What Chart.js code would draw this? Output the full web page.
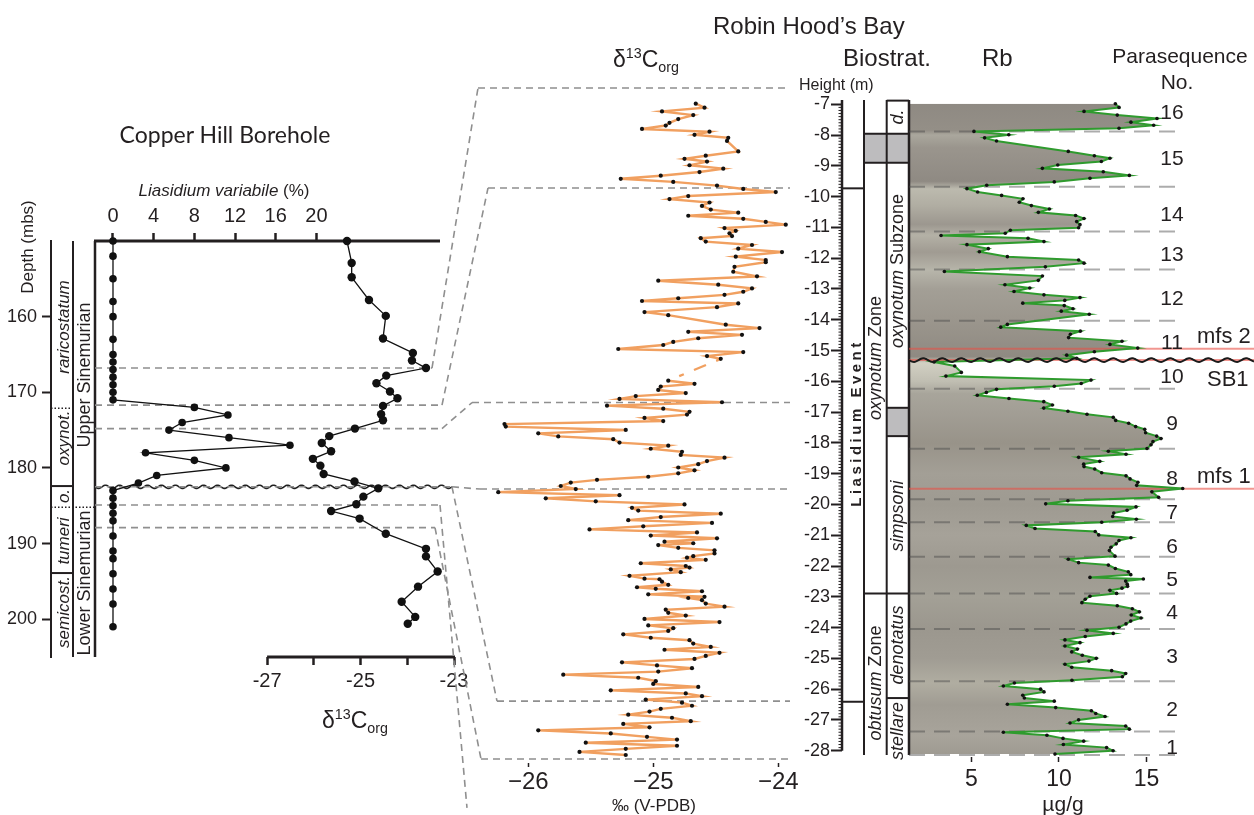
<!DOCTYPE html>
<html>
<head>
<meta charset="utf-8">
<script src="https://cdn.jsdelivr.net/npm/chart.js@4.4.1/dist/chart.umd.min.js"></script>
<style>
  body { margin: 0; background: #fff; }
  #wrap { position: relative; width: 1254px; height: 815px; overflow: hidden;
          font-family: "Liberation Sans", Arial, sans-serif; color: #231f20; }
  #wrap canvas { position: absolute; left: 0; top: 0; }
  .t { position: absolute; white-space: nowrap; line-height: 1; }
  .c { transform: translate(-50%, -50%); }
  .l { transform: translate(0, -50%); }
  .r { transform: translate(-50%, -50%) rotate(-90deg); }
  sup, sub { font-size: 62%; line-height: 0; }
</style>
</head>
<body>
<div id="wrap">
  <canvas id="c1" width="1254" height="815"></canvas>
  <canvas id="c2" width="1254" height="815"></canvas>
  <canvas id="c3" width="1254" height="815"></canvas>
</div>
<script>
// ---------- Copper Hill Borehole ----------
var liaDepth = [150,152,155,158,160,163,165,166,167,168,169,170,171,172,173,174,175,176,177,178,179,180,181,182,183,184,185,186,187,189,191,192,194,196,198,201];
var liaPct = [0,0,0,0,0,0,0,0,0,0,0,0,0,8.0,11.3,6.8,5.5,11.4,17.4,3.2,8.0,11.1,4.3,2.5,0,0,0,0,0,0,0,0,0,0,0,0];
var chDepth = [150,152.9,154.8,157.8,159.9,162.9,164.8,165.8,166.8,167.8,168.8,169.9,170.8,171.8,172.9,173.7,174.8,175.8,176.7,177.8,178.8,179.7,180.8,181.8,182.7,183.8,184.8,185.7,186.7,188.7,190.7,191.7,193.7,195.7,197.7,199.7,200.6];
var chD13C = [-25.29,-25.19,-25.19,-24.82,-24.46,-24.52,-23.88,-23.90,-23.60,-24.45,-24.66,-24.37,-24.21,-24.52,-24.56,-24.52,-25.12,-25.67,-25.83,-25.63,-26.02,-25.86,-25.79,-25.13,-24.62,-24.94,-25.09,-25.63,-25.02,-24.46,-23.60,-23.60,-23.35,-23.77,-24.12,-23.83,-23.99];
var depthTicks = [160,170,180,190,200];
var liaTicks = [0,4,8,12,16,20];
var chCTicks = [-27,-26,-25,-24,-23];
var chCLabeled = [-27,-25,-23];
var chSeqBoundary = 182.5;

// tie lines Copper Hill depth (mbs) -> Robin Hood's Bay height (m)
var linkDepth = [166.8, 171.7, 174.8, 182.5, 182.5, 184.9, 187.9];
var linkHeight = [-6.47, -9.72, -16.69, -19.50, -26.39, -29.86, -28.27];

// ---------- Robin Hood's Bay: d13C org ----------
var rhbH = [-6.98,-7.11,-7.23,-7.35,-7.48,-7.60,-7.69,-7.80,-7.89,-7.99,-8.09,-8.19,-8.53,-8.67,-8.77,-8.86,-8.98,-9.09,-9.20,-9.32,-9.42,-9.52,-9.64,-9.75,-9.85,-9.98,-10.08,-10.19,-10.30,-10.42,-10.52,-10.62,-10.72,-10.82,-10.91,-11.02,-11.11,-11.19,-11.28,-11.35,-11.46,-11.57,-11.69,-11.80,-11.95,-12.06,-12.13,-12.28,-12.44,-12.59,-12.73,-12.86,-12.98,-13.09,-13.19,-13.30,-13.39,-13.47,-13.59,-13.75,-13.85,-14.16,-14.27,-14.39,-14.49,-14.60,-14.72,-14.82,-14.95,-15.05,-15.18,-15.27,
  -15.98,-16.08,-16.17,-16.28,-16.38,-16.48,-16.57,-16.68,-16.79,-16.89,-16.99,-17.08,-17.19,-17.29,-17.39,-17.47,-17.58,-17.69,-17.79,-17.88,-17.99,-18.09,-18.19,-18.29,-18.39,-18.48,-18.59,-18.69,-18.80,-18.89,-18.99,-19.10,-19.20,-19.29,-19.40,-19.50,-19.60,-19.70,-19.80,-19.90,-20.00,-20.11,-20.20,-20.30,-20.41,-20.51,-20.60,-20.71,-20.81,-20.91,-21.01,-21.10,
  -21.21,-21.26,-21.32,-21.41,-21.49,-21.59,-21.68,-21.73,-21.80,-21.91,-22.00,-22.05,-22.11,-22.20,-22.32,-22.41,-22.43,-22.51,-22.61,-22.69,-22.74,-22.82,-22.92,-23.00,-23.04,-23.11,-23.22,-23.32,-23.42,-23.52,-23.61,-23.72,-23.82,-23.93,-24.02,-24.11,-24.22,-24.33,-24.41,-24.52,-24.63,-24.72,-24.82,-24.92,-25.02,-25.13,-25.23,-25.32,-25.43,-25.53,-25.63,-25.74,-25.83,-25.93,-26.04,-26.14,-26.23,-26.34,-26.44,-26.54,-26.64,-26.73,-26.83,-26.93,-27.04,-27.13,-27.24,-27.34,-27.44,-27.55,-27.64,-27.74,-27.84,-27.94,-28.04,-28.14];
var rhbC = [-24.66,-24.59,-24.93,-24.68,-24.80,-24.87,-24.90,-25.09,-24.55,-24.67,-24.40,-24.41,-24.32,-24.58,-24.75,-24.57,-24.71,-24.44,-24.63,-24.94,-25.26,-24.84,-24.49,-24.28,-24.02,-24.72,-24.87,-24.55,-24.61,-24.54,-24.32,-24.72,-24.28,-24.10,-23.94,-24.43,-24.34,-24.39,-24.37,-24.62,-24.58,-24.21,-24.32,-23.97,-24.34,-24.10,-24.10,-24.35,-24.36,-24.17,-24.96,-24.48,-24.21,-24.28,-24.43,-24.80,-25.09,-24.32,-24.49,-25.07,-24.88,-24.42,-24.15,-24.72,-24.29,-24.64,-24.84,-24.92,-25.28,-24.28,-24.57,-24.46,
  -24.88,-24.67,-24.94,-24.96,-24.74,-25.14,-25.27,-24.45,-25.37,-24.92,-24.71,-24.73,-25.07,-24.92,-26.19,-26.18,-25.22,-25.92,-25.76,-25.32,-25.27,-24.88,-25.02,-24.77,-24.78,-24.43,-24.57,-24.64,-24.80,-24.67,-24.80,-25.04,-25.45,-25.66,-25.74,-25.62,-26.24,-25.27,-25.86,-25.46,-24.75,-25.17,-25.12,-24.46,-24.94,-25.20,-24.53,-25.08,-25.51,-24.65,-25.02,-24.49,
  -24.91,-24.68,-24.96,-24.80,-24.51,-24.51,-24.68,-24.73,-24.58,-25.10,-24.74,-24.71,-24.86,-24.78,-25.19,-25.07,-24.95,-24.93,-24.88,-25.13,-24.98,-24.61,-25.04,-24.59,-24.72,-24.61,-24.58,-24.43,-24.90,-24.88,-24.74,-25.07,-24.47,-25.04,-24.84,-24.88,-25.24,-25.02,-24.71,-24.68,-24.54,-24.91,-24.47,-24.58,-24.67,-25.25,-24.97,-24.69,-24.96,-25.72,-25.12,-24.98,-25.00,-24.64,-25.34,-24.74,-24.61,-25.06,-24.77,-24.69,-24.94,-25.03,-25.20,-24.85,-24.70,-25.24,-25.03,-25.92,-25.34,-25.05,-24.81,-25.54,-24.81,-25.22,-25.59,-25.22];
var rhbGapAfter = -15.27;
var rhbCTicks = [-26,-25,-24];

// ---------- Robin Hood's Bay: Rb ----------
var rbH = [-6.98,-7.10,-7.23,-7.35,-7.46,-7.58,-7.68,-7.78,-7.88,-7.99,-8.09,-8.19,-8.53,-8.67,-8.75,-8.86,-8.97,-9.08,-9.19,-9.31,-9.40,-9.52,-9.63,-9.74,-9.85,-9.96,-10.07,-10.18,-10.29,-10.40,-10.51,-10.61,-10.71,-10.81,-10.91,-11.01,-11.09,-11.19,-11.26,-11.35,-11.46,-11.56,-11.69,-11.79,-11.95,-12.06,-12.16,-12.28,-12.43,-12.58,-12.72,-12.86,-12.97,-13.08,-13.19,-13.28,-13.37,-13.46,-13.54,-13.64,-13.72,-13.82,-14.15,-14.24,-14.37,-14.47,-14.58,-14.70,-14.80,-14.92,-15.04,-15.15,-15.25,-15.37,-15.50,-15.71,-15.83,-15.96,-16.07,-16.16,-16.26,-16.36,-16.45,-16.56,-16.66,-16.77,-16.87,-16.97,-17.07,-17.17,-17.27,-17.36,-17.47,-17.56,-17.67,-17.78,-17.86,-17.96,-18.06,-18.18,-18.27,-18.37,-18.47,-18.60,-18.69,-18.77,-18.85,-18.97,-19.07,-19.17,-19.28,-19.38,-19.48,-19.59,-19.77,-19.88,-19.98,-20.08,-20.19,-20.28,-20.39,-20.48,-20.58,-20.68,-20.78,-20.88,-20.99,-21.08,-21.17,-21.28,-21.39,-21.50,-21.68,-21.78,-21.89,-21.97,-22.08,-22.19,-22.28,-22.37,-22.42,-22.49,-22.59,-22.66,-22.72,-22.79,-22.89,-22.98,-23.08,-23.19,-23.29,-23.39,-23.49,-23.59,-23.69,-23.79,-23.88,-23.99,-24.09,-24.19,-24.29,-24.40,-24.49,-24.60,-24.70,-24.79,-24.90,-25.00,-25.09,-25.19,-25.29,-25.40,-25.49,-25.60,-25.71,-25.80,-25.90,-26.00,-26.09,-26.20,-26.29,-26.39,-26.49,-26.60,-26.70,-26.79,-26.89,-27.00,-27.10,-27.20,-27.30,-27.40,-27.50,-27.60,-27.69,-27.80,-27.90,-28.00,-28.11];
var rbV = [13.22,13.43,11.43,13.33,15.60,14.11,15.41,13.43,5.14,7.13,5.75,6.43,10.53,12.02,12.91,12.42,9.93,9.05,12.53,14.02,11.77,9.73,5.87,4.74,5.35,6.72,7.94,7.73,8.42,9.45,8.82,10.95,11.43,11.01,11.20,11.12,7.22,6.93,3.26,8.23,9.14,4.74,5.96,5.45,7.05,11.12,11.43,9.22,3.45,9.05,8.82,6.91,8.33,7.43,9.14,11.20,10.33,7.93,10.30,10.80,10.13,11.73,7.05,6.67,11.22,10.65,10.55,13.60,12.91,14.50,12.02,10.44,11.01,2.86,4.04,4.42,3.54,11.83,11.27,9.73,6.43,5.85,5.33,7.14,9.13,9.62,9.13,10.51,11.60,13.10,13.24,13.98,14.38,14.90,14.95,15.58,15.83,15.37,15.26,15.03,12.82,13.83,11.12,12.33,11.41,11.43,12.04,12.44,13.83,14.06,14.51,14.44,17.07,15.31,15.69,10.51,9.24,14.40,13.89,13.13,13.07,14.42,12.44,8.13,8.63,12.07,12.27,14.11,13.43,13.27,12.97,12.88,13.20,10.53,11.12,12.82,13.22,13.96,14.10,11.77,14.82,13.81,13.90,13.92,13.60,12.91,13.29,11.77,11.50,11.31,13.33,14.19,14.59,14.13,14.69,14.10,13.83,13.43,11.60,13.10,11.50,10.34,11.20,10.34,11.05,10.73,11.33,12.13,11.71,10.34,10.73,13.01,13.81,13.62,10.74,7.45,6.82,8.95,9.14,7.93,8.02,9.73,7.05,9.81,11.85,12.10,12.63,11.12,10.63,13.81,14.02,6.82,9.31,10.23,11.41,10.25,12.72,13.09,9.77];
var rbYTicks = [-7,-8,-9,-10,-11,-12,-13,-14,-15,-16,-17,-18,-19,-20,-21,-22,-23,-24,-25,-26,-27,-28];
var rbXTicks = [5,10,15];
var psBounds = [-7.88,-9.68,-11.13,-12.37,-14.03,-16.24,-18.19,-19.83,-20.58,-21.70,-22.89,-24.05,-25.74,-27.38,-28.14];
var psNumbers = [16,15,14,13,12,11,10,9,8,7,6,5,4,3,2,1];
var psLabelH = [-7.22,-8.71,-10.53,-11.83,-13.26,-14.69,-15.79,-17.32,-19.11,-20.21,-21.32,-22.39,-23.46,-24.89,-26.61,-27.85];
var mfsH = [-14.94, -19.49];
var mfsNames = ['mfs 2', 'mfs 1'];
var sb1H = -15.31;

var ink = '#231f20';
Chart.defaults.font.family = '"Liberation Sans", Arial, sans-serif';
Chart.defaults.color = ink;
Chart.defaults.animation = false;

function fixW(w) { return function (s) { s.width = w; }; }
function fixH(h) { return function (s) { s.height = h; }; }
function setTicks(arr) { return function (s) { s.ticks = arr.map(function (v) { return { value: v }; }); }; }
function pts(ys, xs) { return ys.map(function (y, i) { return { x: xs[i], y: y }; }); }

function seg(ctx, x0, y0, x1, y1, w, color, dash) {
  ctx.save();
  ctx.beginPath();
  ctx.lineWidth = w;
  ctx.strokeStyle = color || ink;
  ctx.setLineDash(dash || []);
  ctx.moveTo(x0, y0);
  ctx.lineTo(x1, y1);
  ctx.stroke();
  ctx.restore();
}
function wave(ctx, x0, x1, y, amp, len, w, color) {
  ctx.save();
  ctx.beginPath();
  ctx.lineWidth = w;
  ctx.strokeStyle = color;
  for (var x = x0; x <= x1; x += 1) {
    var yy = y + amp * Math.sin((x - x0) / len * 2 * Math.PI);
    if (x === x0) ctx.moveTo(x, yy); else ctx.lineTo(x, yy);
  }
  ctx.stroke();
  ctx.restore();
}

var baseOpts = {
  responsive: false, animation: false, devicePixelRatio: 1, indexAxis: 'y',
  plugins: { legend: { display: false }, tooltip: { enabled: false } }
};

// ---------- chart 2 : RHB d13C ----------
var gapIdx = rhbH.indexOf(rhbGapAfter);
var chart2 = new Chart(document.getElementById('c2'), {
  type: 'line',
  data: { datasets: [{
    data: pts(rhbH, rhbC),
    borderColor: '#f1a060', borderWidth: 2.4,
    pointRadius: 2.1, pointBackgroundColor: '#111', pointBorderWidth: 0,
    clip: false,
    segment: { borderDash: function (c) { return c.p0DataIndex === gapIdx ? [5, 11, 13, 11] : undefined; } }
  }] },
  options: Object.assign({}, baseOpts, {
    layout: { padding: { left: 480, right: 454, top: 90, bottom: 0 } },
    scales: {
      y: { type: 'linear', display: false, min: -28.40, max: -6.535 },
      x: {
        type: 'linear', position: 'bottom', min: -26.386, max: -23.826,
        afterBuildTicks: setTicks(rhbCTicks), afterFit: fixH(52),
        ticks: { font: { size: 24 }, padding: 1, color: ink, autoSkip: false,
                 callback: function (v) { return '\u2212' + Math.abs(v); } },
        grid: { drawOnChartArea: false, tickLength: 4, tickWidth: 1.5, tickColor: ink },
        border: { display: false }
      }
    }
  })
});

// ---------- chart 3 : RHB Rb ----------
var rbFill = function (c) {
  var ch = c.chart;
  if (!ch.chartArea || !ch.scales.y) return '#9d988f';
  var y = ch.scales.y, a = ch.chartArea;
  var g = ch.ctx.createLinearGradient(0, a.top, 0, a.bottom);
  var bands = [[-6.9,'#8e8982'],[-7.85,'#948f87'],[-8.0,'#aaa79d'],[-8.4,'#9a958d'],[-9.5,'#8f8a83'],[-9.75,'#bcbaae'],[-10.3,'#b0ada2'],[-10.9,'#9c978f'],[-11.25,'#b4b1a6'],[-11.8,'#a09b92'],[-12.4,'#b7b5aa'],[-13.0,'#a39f96'],[-14.0,'#9b968d'],[-15.2,'#8f8a82'],[-15.4,'#d2d0c3'],[-16.0,'#c0beb2'],[-16.4,'#a8a59b'],[-17.0,'#a29e95'],[-18.0,'#989389'],[-19.0,'#a39f96'],[-20.0,'#9e9a91'],[-21.0,'#a6a299'],[-22.0,'#9d9990'],[-23.0,'#a3a096'],[-24.0,'#9b978e'],[-25.0,'#a09c93'],[-25.8,'#b0ada1'],[-26.5,'#a09c93'],[-27.5,'#a8a49b'],[-28.2,'#9d9990']];
  bands.forEach(function (b) {
    var p = (y.getPixelForValue(b[0]) - a.top) / (a.bottom - a.top);
    g.addColorStop(Math.min(1, Math.max(0, p)), b[1]);
  });
  return g;
};

var rbPlugin = {
  id: 'rbDeco',
  beforeDatasetsDraw: function (chart) {
    var ctx = chart.ctx, y = chart.scales.y;
    var Y = function (h) { return y.getPixelForValue(h); };
    var top = Y(-6.86), bot = Y(-28.14);
    ctx.save();
    ctx.fillStyle = '#bdbcbe';
    ctx.fillRect(864, Y(-7.96), 45, Y(-8.90) - Y(-7.96));
    ctx.fillRect(886.7, Y(-16.86), 22.3, Y(-17.78) - Y(-16.86));
    ctx.restore();
    seg(ctx, 842, top, 842, Y(-28), 2.5);
    seg(ctx, 864, top, 864, bot, 2);
    seg(ctx, 886.7, top, 886.7, bot, 2);
    seg(ctx, 909, top, 909, bot, 2.5);
    [-9.73, -26.41].forEach(function (h) { seg(ctx, 842, Y(h), 864, Y(h), 2); });
    [-7.96, -8.90, -22.89].forEach(function (h) { seg(ctx, 864, Y(h), 909, Y(h), 2); });
    [-6.88, -16.86, -17.78, -26.29].forEach(function (h) { seg(ctx, 886.7, Y(h), 909, Y(h), 2); });
    for (var k = 70; k <= 280; k++) {
      if (k % 10) seg(ctx, 838.5, Y(-k / 10), 842, Y(-k / 10), 1);
    }
    psBounds.forEach(function (h) { seg(ctx, 909, Y(h), 1181, Y(h), 2, 'rgba(70,70,70,0.45)', [16, 9]); });
    mfsH.forEach(function (h) { seg(ctx, 909, Y(h), 1254, Y(h), 2, 'rgba(232,80,70,0.6)'); });
    seg(ctx, 909, Y(sb1H), 1254, Y(sb1H), 2, 'rgba(232,80,70,0.6)');
  },
  afterDatasetsDraw: function (chart) {
    var y = chart.scales.y;
    wave(chart.ctx, 909, 1254, y.getPixelForValue(sb1H), 1.8, 19, 2, '#1a1a1a');
  }
};

var chart3 = new Chart(document.getElementById('c3'), {
  type: 'line',
  data: { datasets: [{
    data: pts(rbH, rbV),
    borderColor: '#2f9b2e', borderWidth: 2,
    pointRadius: 1.8, pointBackgroundColor: '#111', pointBorderWidth: 0,
    fill: { value: 1.43 }, backgroundColor: rbFill, clip: false
  }] },
  options: Object.assign({}, baseOpts, {
    layout: { padding: { left: 800, right: 71, top: 90, bottom: 0 } },
    plugins: { legend: { display: false }, tooltip: { enabled: false }, filler: { drawTime: 'beforeDatasetsDraw' } },
    scales: {
      y: {
        type: 'linear', position: 'left', min: -28.205, max: -6.535,
        afterBuildTicks: setTicks(rbYTicks), afterFit: fixW(42),
        ticks: { font: { size: 18 }, padding: 1, color: ink, autoSkip: false, callback: function (v) { return String(v); } },
        grid: { drawOnChartArea: false, tickLength: 11, tickWidth: 2, tickColor: ink },
        border: { display: false }
      },
      x: {
        type: 'linear', position: 'bottom', min: -2.4, max: 17.086,
        afterBuildTicks: setTicks(rbXTicks), afterFit: fixH(58),
        ticks: { font: { size: 23 }, padding: 4, color: ink, autoSkip: false, callback: function (v) { return String(v); } },
        grid: { drawOnChartArea: false, tickLength: 5, tickWidth: 1.5, tickColor: ink },
        border: { display: false }
      }
    }
  }),
  plugins: [rbPlugin]
});

// ---------- chart 1 : Copper Hill ----------
var chPlugin = {
  id: 'chDeco',
  beforeDatasetsDraw: function (chart) {
    var ctx = chart.ctx, yD = chart.scales.yD, xC = chart.scales.xC;
    var D = function (d) { return yD.getPixelForValue(d); };
    var H = function (h) { return chart2.scales.y.getPixelForValue(h); };
    var top = D(150), bot = D(205);
    seg(ctx, 73, top, 73, bot, 2);
    seg(ctx, 95, top, 95, bot, 2.5);
    seg(ctx, 94, top, 440, top, 3);
    seg(ctx, xC.getPixelForValue(-27), bot, xC.getPixelForValue(-23) + 1, bot, 3);
    seg(ctx, 51, D(172.1), 73, D(172.1), 1.5, ink, [1.5, 2]);
    seg(ctx, 51, D(185.2), 95, D(185.2), 1.5, ink, [1.5, 2]);
    seg(ctx, 51, D(182.4), 73, D(182.4), 2);
    seg(ctx, 51, D(193.9), 73, D(193.9), 2);

    wave(ctx, 95, 452, D(chSeqBoundary), 1.6, 14, 1.6, '#222');

    var bend = [432, 442, 442, 452, 452, 440, 435];
    var join = [478, 488, 472, 480, 497, 467, 481];
    var run = [true, true, true, true, true, false, true];
    var dash = [7, 5], col = '#8f8f8f';
    linkDepth.forEach(function (d, i) {
      var y0 = D(d), y1 = H(linkHeight[i]);
      if (i !== 4) seg(ctx, 95, y0, bend[i], y0, 1.6, col, dash);
      seg(ctx, bend[i], y0, join[i], y1, 1.6, col, dash);
      if (run[i]) seg(ctx, join[i], y1, 790, y1, 1.6, col, dash);
    });
  }
};

var chart1 = new Chart(document.getElementById('c1'), {
  type: 'line',
  data: { datasets: [
    { data: pts(liaDepth, liaPct), xAxisID: 'xL', yAxisID: 'yD',
      borderColor: '#111', borderWidth: 1.3, pointRadius: 3.8,
      pointBackgroundColor: '#111', pointBorderWidth: 0, clip: false },
    { data: pts(chDepth, chD13C), xAxisID: 'xC', yAxisID: 'yD',
      borderColor: '#111', borderWidth: 1.3, pointRadius: 4.2,
      pointBackgroundColor: '#111', pointBorderWidth: 0, clip: false }
  ] },
  options: Object.assign({}, baseOpts, {
    layout: { padding: { left: 0, right: 800, top: 201, bottom: 118 } },
    scales: {
      yD: {
        type: 'linear', position: 'left', reverse: true, min: 150, max: 205,
        afterBuildTicks: setTicks(depthTicks), afterFit: fixW(51),
        ticks: { font: { size: 18 }, padding: 5, color: ink, autoSkip: false, callback: function (v) { return String(v); } },
        grid: { drawOnChartArea: false, tickLength: 9, tickWidth: 2, tickColor: ink },
        border: { display: true, width: 2, color: ink }
      },
      xL: {
        type: 'linear', position: 'top', min: -6.096, max: 33.53,
        afterBuildTicks: setTicks(liaTicks), afterFit: fixH(40),
        ticks: { font: { size: 20 }, padding: 5, color: ink, autoSkip: false, callback: function (v) { return String(v); } },
        grid: { drawOnChartArea: false, tickLength: 8, tickWidth: 2.5, tickColor: ink },
        border: { display: false }
      },
      xC: {
        type: 'linear', position: 'bottom', min: -31.625, max: -23.0,
        afterBuildTicks: setTicks(chCTicks), afterFit: fixH(40),
        ticks: { font: { size: 20 }, padding: 4, color: ink, autoSkip: false,
                 callback: function (v) { return chCLabeled.indexOf(v) >= 0 ? String(v) : ''; } },
        grid: { drawOnChartArea: false, tickLength: 8, tickWidth: 2.5, tickColor: ink },
        border: { display: false }
      }
    }
  }),
  plugins: [chPlugin]
});

// ---------- text ----------
var wrap = document.getElementById('wrap');
function put(html, x, y, css, cls) {
  var d = document.createElement('div');
  d.className = 't ' + (cls || 'c');
  d.innerHTML = html;
  d.style.left = x + 'px';
  d.style.top = y + 'px';
  if (css) d.style.cssText += css;
  wrap.appendChild(d);
}

put('Copper Hill Borehole', 225, 134, 'font-family:Lato,sans-serif;font-size:23px;');
put('<i>Liasidium variabile</i> (%)', 224, 190, 'font-size:17px;');
put('Depth (mbs)', 27, 247, 'font-size:17px;', 'r');
put('<i>raricostatum</i>', 63, 327, 'font-size:17px;', 'r');
put('<i>oxynot.</i>', 63, 438, 'font-size:17px;', 'r');
put('<i>o.</i>', 63, 496, 'font-size:17px;', 'r');
put('<i>tumeri</i>', 63, 541, 'font-size:17px;', 'r');
put('<i>semicost.</i>', 63, 612, 'font-size:17px;', 'r');
put('Upper Sinemurian', 84, 375, 'font-size:18px;', 'r');
put('Lower Sinemurian', 84, 583, 'font-size:18px;', 'r');
put('\u03b4<sup>13</sup>C<sub>org</sub>', 322, 720, 'font-size:23px;', 'l');

put('Robin Hood\u2019s Bay', 713, 26, 'font-size:24px;', 'l');
put('\u03b4<sup>13</sup>C<sub>org</sub>', 613, 59, 'font-size:23px;', 'l');
put('Biostrat.', 843, 58, 'font-size:24px;', 'l');
put('Rb', 982, 58, 'font-size:24px;', 'l');
put('Parasequence', 1180, 55, 'font-size:21px;');
put('No.', 1177, 81, 'font-size:21px;');
put('Height (m)', 799, 85, 'font-size:16px;', 'l');
put('\u2030 (V-PDB)', 654, 805, 'font-size:17px;');
put('\u00b5g/g', 1063, 803, 'font-size:21px;');

put('Liasidium Event', 855, 423, 'font-size:15px;font-weight:bold;letter-spacing:3.5px;', 'r');
put('<i>oxynotum</i> Zone', 875, 358, 'font-size:18px;', 'r');
put('<i>obtusum</i> Zone', 875, 683, 'font-size:18px;', 'r');
put('<i>oxynotum</i> Subzone', 897, 271, 'font-size:18px;', 'r');
put('<i>simpsoni</i>', 897, 516, 'font-size:18px;', 'r');
put('<i>denotatus</i>', 897, 645, 'font-size:18px;', 'r');
put('<i>stellare</i>', 897, 731, 'font-size:18px;', 'r');
put('<i>d.</i>', 897, 117, 'font-size:18px;', 'r');

var ys3 = chart3.scales.y;
psNumbers.forEach(function (n, i) {
  put(String(n), 1172, ys3.getPixelForValue(psLabelH[i]), 'font-size:21px;');
});
mfsNames.forEach(function (n, i) {
  put(n, 1197, ys3.getPixelForValue(mfsH[i]) - 13, 'font-size:22px;', 'l');
});
put('SB1', 1207, ys3.getPixelForValue(sb1H) + 19, 'font-size:22px;', 'l');
</script>
</body>
</html>
